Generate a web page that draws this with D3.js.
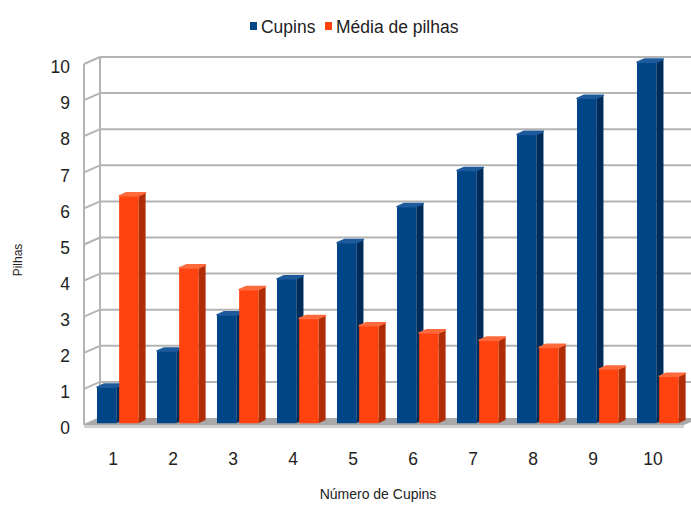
<!DOCTYPE html>
<html>
<head>
<meta charset="utf-8">
<script src="https://cdn.jsdelivr.net/npm/d3@7"></script>
<style>
  html, body { margin: 0; padding: 0; background: #fff; }
  svg { display: block; }
  text { font-family: "Liberation Sans Narrow", "Liberation Sans", Arial, sans-serif; fill: #222; }
</style>
</head>
<body>
<svg id="chart" width="691" height="507"></svg>
<script>
// Chart data
const categories = ["1", "2", "3", "4", "5", "6", "7", "8", "9", "10"];
const seriesNames = ["Cupins", "Média de pilhas"];
const cupins = [1, 2, 3, 4, 5, 6, 7, 8, 9, 10];
const mediaPilhas = [6.3, 4.3, 3.7, 2.9, 2.7, 2.5, 2.3, 2.1, 1.5, 1.3];
const yTicks = [0, 1, 2, 3, 4, 5, 6, 7, 8, 9, 10];

const seriesValues = [cupins, mediaPilhas];
const palette = [
  { front: "#004586", side: "#002c5a", top: "#1d5b9c" },
  { front: "#ff420e", side: "#b02c06", top: "#ff6a3c" }
];

const svg = d3.select("#chart");

// Front plane of the oblique 3D box, and the depth offset of its back plane
const front = { left: 84, right: 684, bottom: 425, top: 64 };
const depth = { dx: 16, dy: -7 };

const x0 = d3.scaleBand().domain(categories).range([front.left, front.right]);
const x1 = d3.scaleBand().domain(seriesNames)
  .range([x0.bandwidth() * 0.15, x0.bandwidth() * 0.84]).paddingInner(0.13);
const y = d3.scaleLinear().domain([0, 10]).range([front.bottom, front.top]);

// project a point at front-plane coordinates (px, py) to depth z in [0, 1]
const P = (px, py, z) => [px + depth.dx * z, py + depth.dy * z];
const poly = pts => "M" + pts.map(p => p.join(",")).join("L") + "Z";

// condensed text: the label is squeezed horizontally around its anchor
const narrow = 0.92;
const place = (sel, fx, fy) => sel.attr("transform", (d, i) => `translate(${fx(d, i)},${fy(d, i)}) scale(${narrow},1)`);

const gridColor = "#b4b4b4";
const g = svg.append("g");

// back wall and side wall grid lines
yTicks.forEach(t => {
  const yy = y(t);
  if (t > 0) {
    g.append("line")
      .attr("x1", P(front.left, yy, 1)[0]).attr("y1", P(front.left, yy, 1)[1])
      .attr("x2", P(front.right, yy, 1)[0]).attr("y2", P(front.right, yy, 1)[1])
      .attr("stroke", gridColor).attr("stroke-width", 2);
  }
  g.append("line")
    .attr("x1", P(front.left, yy, 0)[0]).attr("y1", P(front.left, yy, 0)[1])
    .attr("x2", P(front.left, yy, 1)[0]).attr("y2", P(front.left, yy, 1)[1])
    .attr("stroke", gridColor).attr("stroke-width", 2);
});
// wall edges
[0, 1].forEach(z => {
  const a = P(front.left, y(0), z), b = P(front.left, y(10), z);
  g.append("line").attr("x1", a[0]).attr("y1", a[1]).attr("x2", b[0]).attr("y2", b[1])
    .attr("stroke", gridColor).attr("stroke-width", 2);
});

// floor
const fl = [P(front.left, y(0), 0), P(front.right, y(0), 0), P(front.right, y(0), 1), P(front.left, y(0), 1)];
g.append("path").attr("d", poly(fl)).attr("fill", "#a9a9a9");
g.append("path")
  .attr("d", poly([P(front.left, y(0), 0), P(front.right, y(0), 0), [front.right, y(0) + 3], [front.left, y(0) + 3]]))
  .attr("fill", "#cfcfcf");

// bars, drawn as boxes between two depths
const zf = 0.25, zb = 0.7;
const bars = g.append("g");
categories.forEach((c, i) => {
  seriesNames.forEach((s, k) => {
    const v = seriesValues[k][i];
    const col = palette[k];
    const xl = x0(c) + x1(s), xr = xl + x1.bandwidth();
    const yt = y(v), yb = y(0);
    const bg = bars.append("g");
    // side face
    bg.append("path")
      .attr("d", poly([P(xr, yt, zf), P(xr, yt, zb), P(xr, yb, zb), P(xr, yb, zf)]))
      .attr("fill", col.side);
    // front face
    bg.append("path")
      .attr("d", poly([P(xl, yt, zf), P(xr, yt, zf), P(xr, yb, zf), P(xl, yb, zf)]))
      .attr("fill", col.front);
    // top face
    bg.append("path")
      .attr("d", poly([P(xl, yt, zf), P(xr, yt, zf), P(xr, yt, zb), P(xl, yt, zb)]))
      .attr("fill", col.top)
      .attr("stroke", col.top).attr("stroke-width", 1.5).attr("stroke-linejoin", "round");
  });
});

// y tick labels
g.append("g").selectAll("text").data(yTicks).join("text")
  .call(place, () => 70, d => y(d) + 2.5)
  .attr("text-anchor", "end").attr("dominant-baseline", "central")
  .attr("font-size", 19).text(d => d);

// category labels
g.append("g").selectAll("text").data(categories).join("text")
  .call(place, d => x0(d) + x0.bandwidth() / 2 - 1, () => 458)
  .attr("text-anchor", "middle").attr("dominant-baseline", "central")
  .attr("font-size", 19).text(d => d);

// axis titles
svg.append("text").attr("x", 378).attr("y", 494)
  .attr("text-anchor", "middle").attr("dominant-baseline", "central")
  .attr("font-size", 14).text("Número de Cupins");
svg.append("text")
  .attr("transform", "translate(18,260) rotate(-90)")
  .attr("text-anchor", "middle").attr("dominant-baseline", "central")
  .attr("font-size", 12).text("Pilhas");

// legend
const legend = svg.append("g");
const legendItems = [
  { name: seriesNames[0], color: palette[0].front, x: 250 },
  { name: seriesNames[1], color: palette[1].front, x: 325 }
];
legendItems.forEach(d => {
  legend.append("rect").attr("x", d.x).attr("y", 22).attr("width", 7).attr("height", 8).attr("fill", d.color);
  legend.append("text").datum(d)
    .call(place, e => e.x + 11, () => 26.5)
    .attr("dominant-baseline", "central").attr("font-size", 19).text(e => e.name);
});
</script>
</body>
</html>
